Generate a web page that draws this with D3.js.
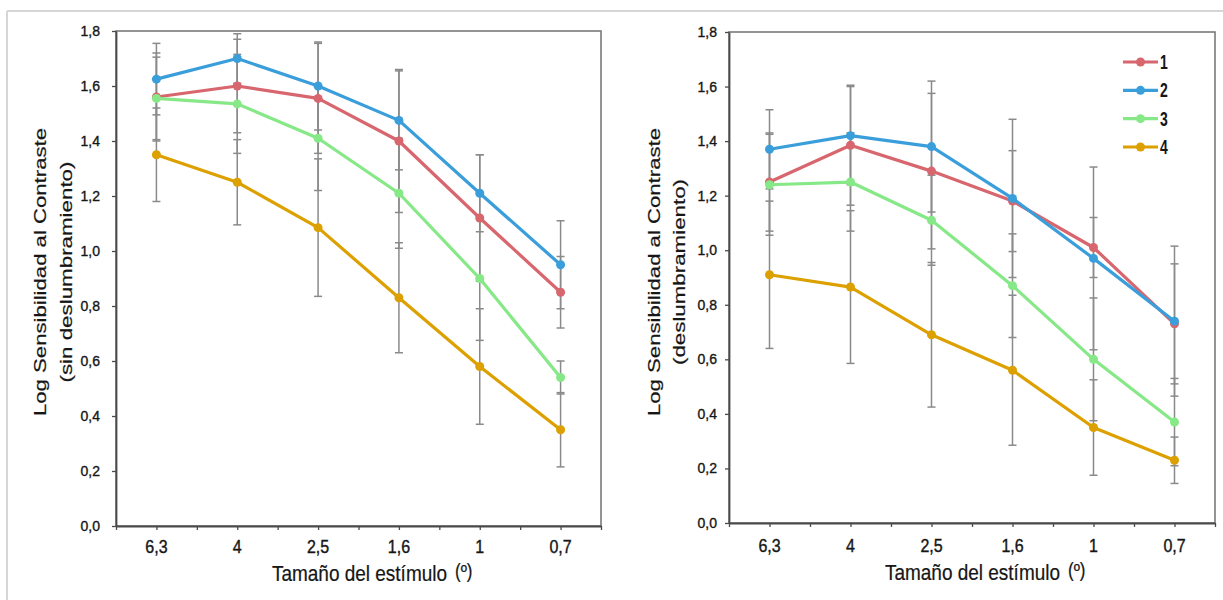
<!DOCTYPE html>
<html><head><meta charset="utf-8">
<script src="https://cdn.jsdelivr.net/npm/d3@7"></script>
<style>
body{margin:0;background:#fff;}
svg{display:block;font-family:"Liberation Sans",Arial,sans-serif;}
</style>
</head><body>
<svg id="chart" width="1223" height="600"></svg>
<script>
// ---------- data ----------
const categories = ["6,3", "4", "2,5", "1,6", "1", "0,7"];
const seriesNames = ["1", "2", "3", "4"];
const seriesColors = ["#d8666e", "#3a9edb", "#86e886", "#dca000"];
const yTickValues = [0, 0.2, 0.4, 0.6, 0.8, 1.0, 1.2, 1.4, 1.6, 1.8];

// Left panel: sin deslumbramiento
const leftS1 = [1.56, 1.60, 1.555, 1.40, 1.12, 0.85];
const leftS2 = [1.625, 1.70, 1.60, 1.475, 1.21, 0.95];
const leftS3 = [1.555, 1.535, 1.41, 1.21, 0.90, 0.54];
const leftS4 = [1.35, 1.25, 1.085, 0.83, 0.58, 0.35];
const leftE1 = [0.16, 0.17, 0.20, 0.26, 0.23, 0.13];
const leftE2 = [0.13, 0.09, 0.16, 0.18, 0.14, 0.16];
const leftE3 = [0.15, 0.18, 0.19, 0.20, 0.225, 0.06];
const leftE4 = [0.17, 0.155, 0.25, 0.20, 0.21, 0.135];

// Right panel: deslumbramiento
const rightS1 = [1.25, 1.385, 1.29, 1.18, 1.01, 0.73];
const rightS2 = [1.37, 1.42, 1.38, 1.19, 0.97, 0.74];
const rightS3 = [1.24, 1.25, 1.11, 0.87, 0.60, 0.37];
const rightS4 = [0.91, 0.865, 0.69, 0.56, 0.35, 0.23];
const rightE1 = [0.18, 0.22, 0.285, 0.185, 0.11, 0.22];
const rightE2 = [0.145, 0.18, 0.24, 0.29, 0.335, 0.275];
const rightE3 = [0.185, 0.18, 0.165, 0.19, 0.225, 0.16];
const rightE4 = [0.27, 0.28, 0.265, 0.275, 0.175, 0.085];

const yTitleLine1 = "Log Sensibilidad al Contraste";
const leftYTitle2 = "(sin deslumbramiento)";
const rightYTitle2 = "(deslumbramiento)";
const xTitle = "Tamaño del estímulo";
const xTitleSup = "(º)";

// ---------- drawing ----------
const svg = d3.select("#chart");
svg.append("rect").attr("width", 1223).attr("height", 600).attr("fill", "#fff");
// outer light frame
svg.append("line").attr("x1", 7).attr("x2", 1223).attr("y1", 11).attr("y2", 11)
  .attr("stroke", "#d6d6d6").attr("stroke-width", 2);
svg.append("line").attr("x1", 7).attr("x2", 7).attr("y1", 11).attr("y2", 600)
  .attr("stroke", "#d6d6d6").attr("stroke-width", 2);

const fmt = d => d.toFixed(1).replace(".", ",");
const TXT = "#161616";

function drawPanel(cfg) {
  const g = svg.append("g");
  const x = d3.scaleBand().domain(categories).range([cfg.x0, cfg.x1]).padding(0);
  const xTickScale = d3.scaleLinear().domain([0, categories.length * 2]).range([cfg.x0, cfg.x1]);
  const y = d3.scaleLinear().domain([0, 1.8]).range([cfg.yBottom, cfg.yTop]);

  // plot border (top/right)
  g.append("rect").attr("x", cfg.x0).attr("y", cfg.yTop)
    .attr("width", cfg.x1 - cfg.x0).attr("height", cfg.yBottom - cfg.yTop)
    .attr("fill", "none").attr("stroke", "#7a7a7a").attr("stroke-width", 1.6);

  // y axis
  const ya = g.append("g").attr("transform", `translate(${cfg.x0},0)`)
    .call(d3.axisLeft(y).tickValues(yTickValues).tickSize(4).tickSizeOuter(0).tickFormat(fmt));
  ya.select(".domain").attr("stroke", "#4a4a4a").attr("stroke-width", 1.8);
  ya.selectAll(".tick line").attr("stroke", "#4a4a4a").attr("stroke-width", 1.3);
  ya.selectAll(".tick text").attr("x", -cfg.yLabelGap).attr("fill", TXT)
    .attr("stroke", TXT).attr("stroke-width", 0.35)
    .attr("font-size", 14).attr("font-family", "Liberation Sans, Arial, sans-serif");

  // x axis tick marks (category centres and boundaries)
  const xa = g.append("g").attr("transform", `translate(0,${cfg.yBottom})`)
    .call(d3.axisBottom(xTickScale).tickValues(d3.range(0, categories.length * 2 + 1))
      .tickSize(4).tickSizeOuter(0).tickFormat(""));
  xa.select(".domain").attr("stroke", "#4a4a4a").attr("stroke-width", 1.8);
  xa.selectAll(".tick line").attr("stroke", "#4a4a4a").attr("stroke-width", 1.3);

  // x axis labels
  const xl = g.append("g").attr("transform", `translate(0,${cfg.yBottom})`)
    .call(d3.axisBottom(x).tickSize(0).tickSizeOuter(0));
  xl.select(".domain").remove();
  xl.selectAll(".tick text").attr("y", 0).attr("dy", 0)
    .attr("transform", `translate(0,${cfg.xLabelOff}) scale(1,1.15)`)
    .attr("fill", TXT).attr("stroke", TXT).attr("stroke-width", 0.35).attr("font-size", 16)
    .attr("font-family", "Liberation Sans, Arial, sans-serif");

  const cx = c => x(c) + x.bandwidth() / 2;
  const vals = cfg.series, errs = cfg.errors;

  // error bars
  const eb = g.append("g").attr("stroke", "#8a8a8a").attr("stroke-width", 1.5);
  vals.forEach((s, si) => {
    s.forEach((v, i) => {
      const e = errs[si][i], px = cx(categories[i]);
      eb.append("line").attr("x1", px).attr("x2", px).attr("y1", y(v - e)).attr("y2", y(v + e));
      [v - e, v + e].forEach(t => eb.append("line")
        .attr("x1", px - 4).attr("x2", px + 4).attr("y1", y(t)).attr("y2", y(t)));
    });
  });

  // series lines + markers
  const line = d3.line().x((d, i) => cx(categories[i])).y(d => y(d));
  vals.forEach((s, si) => {
    g.append("path").datum(s).attr("d", line).attr("fill", "none")
      .attr("stroke", seriesColors[si]).attr("stroke-width", 3.2).attr("stroke-linejoin", "round");
    g.selectAll(null).data(s).enter().append("circle")
      .attr("cx", (d, i) => cx(categories[i])).attr("cy", d => y(d)).attr("r", 4.5)
      .attr("fill", seriesColors[si]);
  });

  // y title
  const yt = [[yTitleLine1, cfg.yt1x, 288], [cfg.yTitle2, cfg.yt2x, cfg.yt2len]];
  yt.forEach(([t, tx, len]) => {
    g.append("text").attr("transform", `translate(${tx},${cfg.ytCy}) rotate(-90)`)
      .attr("text-anchor", "middle").attr("dominant-baseline", "central")
      .attr("font-size", 17).attr("fill", TXT).attr("stroke", TXT).attr("stroke-width", 0.2)
      .attr("textLength", len).attr("lengthAdjust", "spacingAndGlyphs").text(t);
  });

  // x title
  g.append("text").attr("transform", `translate(${cfg.xtX},${cfg.xtY}) scale(1,1.17)`)
    .attr("font-size", 19).attr("fill", TXT).attr("stroke", TXT).attr("stroke-width", 0.2)
    .attr("textLength", 175).attr("lengthAdjust", "spacingAndGlyphs").text(xTitle);
  g.append("text").attr("transform", `translate(${cfg.xtX + 183},${cfg.xtY - 3}) scale(1,1.15)`)
    .attr("font-size", 17).attr("fill", TXT).attr("stroke", TXT).attr("stroke-width", 0.2)
    .text(xTitleSup);

  return { x, y };
}

drawPanel({
  x0: 116, x1: 601, yTop: 31, yBottom: 526, yLabelGap: 16, xLabelOff: 27,
  series: [leftS1, leftS2, leftS3, leftS4], errors: [leftE1, leftE2, leftE3, leftE4],
  yTitle2: leftYTitle2, yt1x: 40, yt2x: 66, yt2len: 221, ytCy: 272,
  xtX: 272, xtY: 581
});

drawPanel({
  x0: 729, x1: 1215, yTop: 32, yBottom: 523, yLabelGap: 12, xLabelOff: 29,
  series: [rightS1, rightS2, rightS3, rightS4], errors: [rightE1, rightE2, rightE3, rightE4],
  yTitle2: rightYTitle2, yt1x: 654, yt2x: 679, yt2len: 186, ytCy: 272,
  xtX: 885, xtY: 580
});

// legend (right panel)
const legendY = d3.scalePoint().domain(seriesNames).range([62, 147]);
const lg = svg.append("g");
seriesNames.forEach((n, i) => {
  const ly = legendY(n);
  lg.append("line").attr("x1", 1123).attr("x2", 1158).attr("y1", ly).attr("y2", ly)
    .attr("stroke", seriesColors[i]).attr("stroke-width", 3.2);
  lg.append("circle").attr("cx", 1140.5).attr("cy", ly).attr("r", 4.5).attr("fill", seriesColors[i]);
  lg.append("text").attr("transform", `translate(1160,${ly + 7}) scale(1,1.4)`)
    .attr("font-size", 14).attr("font-weight", "bold").attr("fill", TXT).text(n);
});
</script>
</body></html>
